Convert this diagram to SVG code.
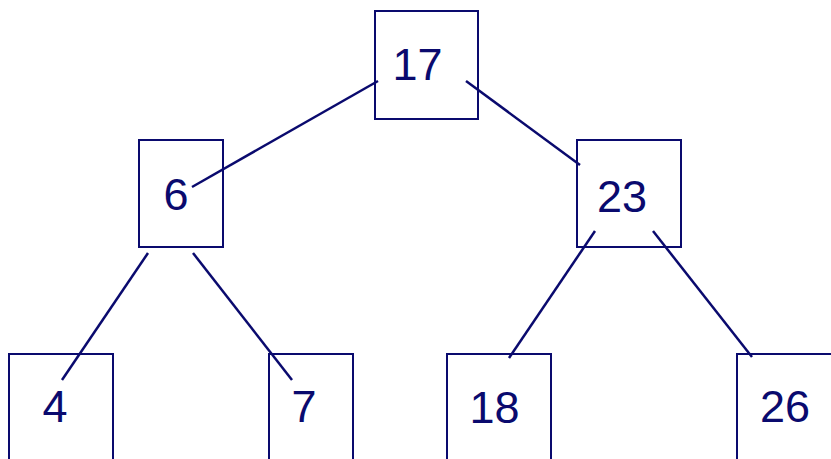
<svg xmlns="http://www.w3.org/2000/svg" width="831" height="459" viewBox="0 0 831 459">
<style>
.box{fill:#ffffff;stroke:#0a0a6e;stroke-width:2}
.lbl{font-family:"Liberation Sans",Arial,sans-serif;font-size:45px;fill:#0a0a6e;text-anchor:middle}
.edge{stroke:#0a0a6e;stroke-width:2.5;fill:none}
</style>
<rect width="831" height="459" fill="#ffffff"/>
<g id="n17"><rect class="box" x="375" y="11" width="103" height="108"/><text class="lbl" x="417.5" y="80">17</text></g>
<g id="n6"><rect class="box" x="139" y="140" width="84" height="107"/><text class="lbl" x="176" y="210">6</text></g>
<g id="n23"><rect class="box" x="577" y="140" width="104" height="107"/><text class="lbl" x="622" y="212">23</text></g>
<g id="n4"><rect class="box" x="9" y="354" width="104" height="120"/><text class="lbl" x="55" y="422">4</text></g>
<g id="n7"><rect class="box" x="269" y="354" width="84" height="120"/><text class="lbl" x="304" y="422">7</text></g>
<g id="n18"><rect class="box" x="447" y="354" width="104" height="120"/><text class="lbl" x="494.5" y="423">18</text></g>
<g id="n26"><rect class="box" x="737" y="354" width="110" height="120"/><text class="lbl" x="785" y="422">26</text></g>
<g id="edges">
<line class="edge" x1="192" y1="187" x2="378" y2="81"/>
<line class="edge" x1="466" y1="81" x2="580" y2="165"/>
<line class="edge" x1="148" y1="253" x2="62" y2="380"/>
<line class="edge" x1="193" y1="253" x2="292" y2="380"/>
<line class="edge" x1="595" y1="231" x2="509" y2="358"/>
<line class="edge" x1="653" y1="231" x2="752" y2="357"/>
</g>
</svg>
